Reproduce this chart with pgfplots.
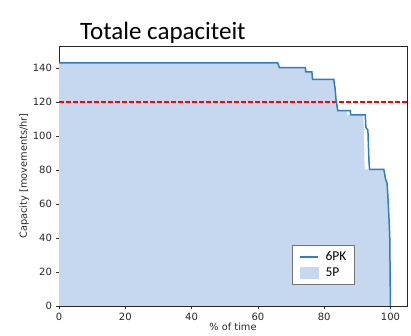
\documentclass[border=0pt]{standalone}
\usepackage{fontspec}
\setmainfont{DejaVu Sans}
\newfontfamily\carlito{Carlito}
\usepackage{pgfplots}
\pgfplotsset{compat=1.18}
\definecolor{lineblue}{HTML}{2E7EBF}
\definecolor{fillblue}{HTML}{C6D8EF}
\begin{document}
\begin{tikzpicture}
\useasboundingbox (0,0) rectangle (411pt,336pt);
\begin{axis}[
  at={(59pt,30pt)}, anchor=south west,
  width=348pt, height=260pt, scale only axis,
  xmin=0, xmax=105, ymin=0, ymax=153,
  xtick={0,20,...,100}, ytick={0,20,...,140},
  tick align=outside, tick pos=left,
  major tick length=3.5pt,
  every tick/.style={black!80, line width=0.6pt},
  axis line style={black!85, line width=0.7pt},
  /pgf/number format/assume math mode=true,
  tick label style={font=\fontsize{10}{12}\selectfont, text=black!85},
  label style={font=\fontsize{9.8}{11}\selectfont, text=black!85},
  xlabel={\% of time},
  ylabel={Capacity [movements/hr]},
  xlabel style={yshift=4pt},
  ylabel style={yshift=-3pt},
  legend style={at={(0.6705,0.083)}, anchor=south west, font=\carlito\fontsize{13.5}{15}\selectfont,
    draw=black!55, inner xsep=6.5pt, inner ysep=5pt, row sep=3pt, column sep=6pt,
    nodes={inner sep=1pt, text height=9pt, text depth=2pt}},
  legend cell align=left,
  clip=true,
]
\addplot[fill=fillblue, draw=none, forget plot] coordinates {
(0,0) (0,143) (66,143) (66.5,140.3) (74.3,140.3) (74.5,137.8) (76.3,137.8) (76.5,133.3)
(82.9,133.3) (83.3,128) (83.6,121) (83.8,119) (84.1,115) (86.8,115) (86.9,112.4)
(91.8,112.4) (92.0,105) (92.2,82) (92.4,80.4) (98.0,80.4) (98.5,75) (99.0,72)
(99.3,62) (99.6,50) (99.8,40) (99.9,0)
} -- cycle;
\addplot[red, line width=1.3pt, dash pattern=on 4.5pt off 2.5pt, forget plot] coordinates {(0,120) (105,120)};
\addplot[lineblue, line width=1.5pt, forget plot] coordinates {
(0,143) (66,143) (66.5,140.3) (74.3,140.3) (74.5,137.8) (76.3,137.8) (76.5,133.3)
(82.9,133.3) (83.3,128) (83.6,121) (83.8,119) (84.1,115) (87.9,115) (88.0,112.4)
(92.4,112.4) (92.6,105) (93.2,103.5) (93.5,86) (93.7,80.4) (98.0,80.4) (98.5,75)
(99.0,72) (99.3,62) (99.6,50) (99.8,40) (100,0)
};
\addlegendimage{legend image code/.code={\draw[lineblue, line width=1.6pt] (0pt,0pt) -- (18pt,0pt);}}
\addlegendentry{6PK}
\addlegendimage{legend image code/.code={\fill[fillblue] (0pt,-5.5pt) rectangle (18pt,5.5pt);}}
\addlegendentry{5P}
\end{axis}
\node[anchor=base west, inner sep=0pt, font=\carlito\fontsize{25}{28}\selectfont] at (80pt,296.7pt) {Totale capaciteit};
\end{tikzpicture}
\end{document}
